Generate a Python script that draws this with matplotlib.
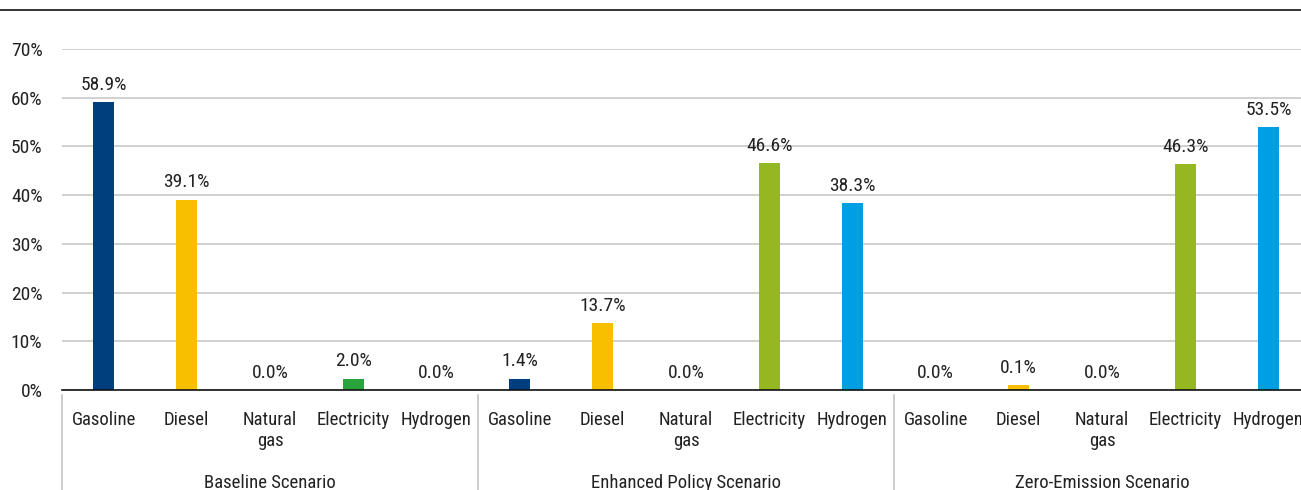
import numpy as np
import matplotlib
matplotlib.use('Agg')
import matplotlib.pyplot as plt
from matplotlib.lines import Line2D
import matplotlib.transforms as mtransforms

plt.rcParams['font.family'] = ['Roboto Condensed', 'DejaVu Sans']

# data
scenarios = ['Baseline Scenario', 'Enhanced Policy Scenario', 'Zero-Emission Scenario']
fuels = ['Gasoline', 'Diesel', 'Natural\ngas', 'Electricity', 'Hydrogen']
baseline = [58.9, 39.1, 0.0, 2.0, 0.0]
enhanced = [1.4, 13.7, 0.0, 46.6, 38.3]
zero_emission = [0.0, 0.1, 0.0, 46.3, 53.5]
# drawn bar heights as they appear (tiny shares are drawn a bit taller)
baseline_bars = [59.1, 39.1, 0.0, 2.3, 0.0]
enhanced_bars = [2.3, 13.7, 0.0, 46.6, 38.3]
zero_bars = [0.0, 1.0, 0.0, 46.3, 54.0]

fuel_colors = ['#003f7d', '#f8be00', '#8c8c8c', '#95b722', '#009fe3']
base_colors = ['#003f7d', '#f8be00', '#8c8c8c', '#2ba33c', '#009fe3']

labels = baseline + enhanced + zero_emission
heights = baseline_bars + enhanced_bars + zero_bars
colors = base_colors + fuel_colors + fuel_colors
x = np.arange(len(heights))

fig = plt.figure(figsize=(13.01, 4.9), dpi=100)
ax = fig.add_axes([62 / 1301, 100 / 490, 1248 / 1301, 341 / 490])

ax.bar(x, heights, width=0.25, color=colors, zorder=3)
for xi, h, v in zip(x, heights, labels):
    ax.annotate(f'{v:.1f}%', (xi, h), xytext=(0, 6), textcoords='offset points',
                ha='center', va='bottom', fontsize=14, color='#222222')

ax.set_xlim(-0.5, len(heights) - 0.5)
ax.set_ylim(0, 70)
ax.set_yticks(np.arange(0, 71, 10))
ax.set_yticklabels([f'{t}%' for t in range(0, 71, 10)])
ax.yaxis.grid(True, color='#c8c8c8', linewidth=1.2, zorder=0)
ax.set_axisbelow(True)

ax.set_xticks(x)
ax.set_xticklabels(fuels * 3, linespacing=1.25)
ax.tick_params(axis='x', length=0, pad=15, labelsize=13.5, colors='#222222')
ax.tick_params(axis='y', length=0, pad=14, labelsize=14, colors='#222222')

for s in ['top', 'right', 'left']:
    ax.spines[s].set_visible(False)
ax.spines['bottom'].set_color('#111111')
ax.spines['bottom'].set_linewidth(1.2)
ax.spines['bottom'].set_zorder(4)

trans = mtransforms.blended_transform_factory(ax.transData, ax.transAxes)
for g, name in enumerate(scenarios):
    ax.text(g * 5 + 2, -0.273, name, transform=trans, ha='center', va='center',
            fontsize=13.5, color='#222222')
    ax.plot([g * 5 - 0.5, g * 5 - 0.5], [-0.015, -0.3], transform=trans,
            color='#c4c4c4', linewidth=1.2, clip_on=False)

fig.add_artist(Line2D([0, 1], [480 / 490, 480 / 490], color='#111111', linewidth=1.2))

fig.savefig('out.png', dpi=100)
